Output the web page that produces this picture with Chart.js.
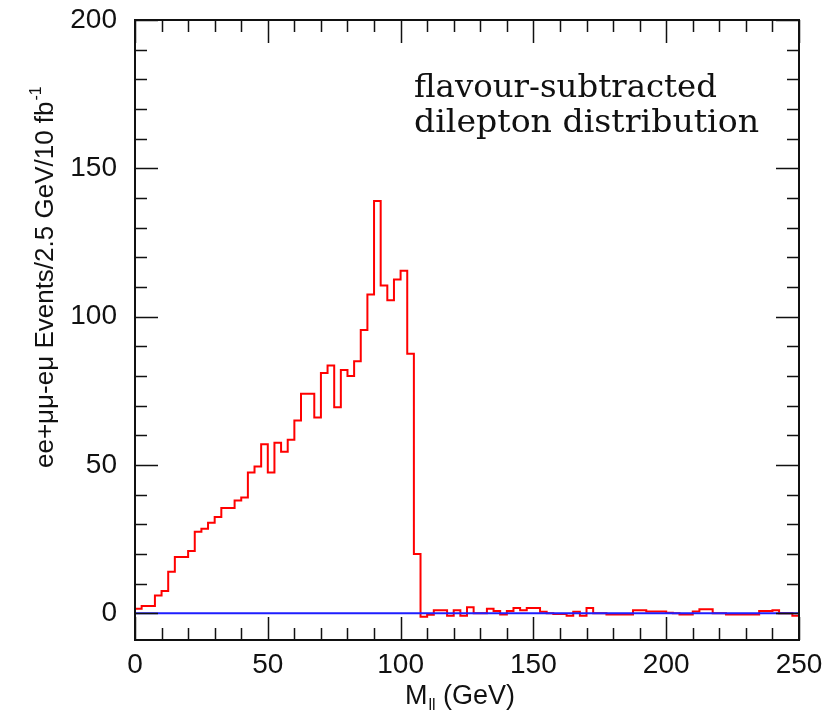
<!DOCTYPE html>
<html>
<head>
<meta charset="utf-8">
<script src="https://cdn.jsdelivr.net/npm/chart.js@4"></script>
<style>
html, body { margin: 0; padding: 0; background: #fff; }
</style>
</head>
<body>
<canvas id="chart" width="823" height="719"></canvas>
<script>
// ee+mumu-emu events per 2.5 GeV bin, 0..250 GeV
const binWidth = 2.5;
const eventCounts = [
	1.5, 2.5, 2.5, 6, 7.5, 14, 19, 19, 21, 27.5,
	28.5, 30.5, 32.5, 35.5, 35.5, 38, 39, 47.5, 49.5, 57,
	47.5, 57.5, 54.5, 58.5, 65, 74, 74, 66, 81, 83.5,
	69.5, 82, 80, 85, 95.5, 107.5, 139, 110.5, 105.5, 112.5,
	115.5, 87.5, 20, -1.2, -0.5, 1, 1, -0.8, 1, -0.8,
	2, 0, 0, 1.5, 0.8, -0.4, 0.8, 1.8, 1, 1.8,
	1.8, 0.5, 0, -0.2, -0.2, -0.8, 0.5, -0.8, 1.8, 0,
	0, -0.4, -0.4, -0.4, -0.4, 1, 1, 0.6, 0.6, 0.6,
	0.2, 0, -0.4, -0.4, 0.6, 1.4, 1.4, 0, 0, -0.4,
	-0.4, -0.4, -0.4, -0.4, 0.8, 0.8, 1, 0, 0, -0.8
];
const baselineValue = 0;
const xRange = [0, 250];
const yRange = [-9, 200];
const xTickValues = [0, 50, 100, 150, 200, 250];
const yTickValues = [0, 50, 100, 150, 200];
const annotationLines = ['flavour-subtracted', 'dilepton distribution'];
const xTitle = { main: 'M', sub: 'll', rest: ' (GeV)' };
const yTitle = { main: 'ee+\u03bc\u03bc-e\u03bc Events/2.5 GeV/10 fb', sup: '-1' };

// histogram outline: one point per left bin edge, plus the right end
const histPoints = eventCounts.map((v, i) => ({ x: i * binWidth, y: v }));
histPoints.push({ x: eventCounts.length * binWidth, y: eventCounts[eventCounts.length - 1] });

function noScalePadding(s) {
	s.paddingTop = 0; s.paddingBottom = 0;
	s.paddingLeft = 0; s.paddingRight = 0;
}

const framePlugin = {
	id: 'framePlugin',
	afterDraw(chart) {
		const ctx = chart.ctx;
		const a = chart.chartArea;
		const xs = chart.scales.x, ys = chart.scales.y;
		ctx.save();
		ctx.strokeStyle = '#111';
		ctx.lineWidth = 1.5;

		// inward ticks on all four sides
		ctx.beginPath();
		for (let v = xRange[0]; v <= xRange[1]; v += 10) {
			const px = Math.round(xs.getPixelForValue(v)) + 0.5;
			const len = v % 50 === 0 ? 23 : 12;
			ctx.moveTo(px, a.bottom); ctx.lineTo(px, a.bottom - len);
			ctx.moveTo(px, a.top); ctx.lineTo(px, a.top + len);
		}
		for (let v = 0; v <= yRange[1]; v += 10) {
			const py = Math.round(ys.getPixelForValue(v)) + 0.5;
			const len = v % 50 === 0 ? 23 : 12;
			ctx.moveTo(a.left, py); ctx.lineTo(a.left + len, py);
			ctx.moveTo(a.right, py); ctx.lineTo(a.right - len, py);
		}
		ctx.stroke();

		ctx.lineWidth = 2;
		ctx.strokeRect(a.left, a.top, a.right - a.left, a.bottom - a.top);

		// annotation (serif)
		ctx.fillStyle = '#111';
		ctx.textBaseline = 'alphabetic';
		ctx.textAlign = 'left';
		const widths = [303, 345];
		const baselines = [97, 132];
		ctx.font = '31px "DejaVu Serif"';
		annotationLines.forEach((t, i) => {
			const w = ctx.measureText(t).width;
			ctx.save();
			ctx.translate(414, baselines[i]);
			ctx.scale(widths[i] / w, 1);
			ctx.fillText(t, 0, 0);
			ctx.restore();
		});

		// x title with subscript
		ctx.font = '27px "Liberation Sans"';
		const mW = ctx.measureText(xTitle.main).width;
		ctx.font = '16px "Liberation Sans"';
		const sW = ctx.measureText(xTitle.sub).width;
		let x0 = 405;
		const xb = 704;
		ctx.font = '27px "Liberation Sans"';
		ctx.fillText(xTitle.main, x0, xb);
		ctx.font = '16px "Liberation Sans"';
		ctx.fillText(xTitle.sub, x0 + mW + 1, xb + 6);
		ctx.font = '27px "Liberation Sans"';
		ctx.fillText(xTitle.rest, x0 + mW + sW + 1, xb);

		// y title with superscript, rotated
		ctx.save();
		ctx.translate(53, 468);
		ctx.rotate(-Math.PI / 2);
		ctx.font = '26px "Liberation Sans"';
		ctx.fillText(yTitle.main, 0, 0);
		const yw = ctx.measureText(yTitle.main).width;
		ctx.font = '16px "Liberation Sans"';
		ctx.fillText(yTitle.sup, yw + 1, -12);
		ctx.restore();

		ctx.restore();
	}
};

const ctx = document.getElementById('chart').getContext('2d');
new Chart(ctx, {
	type: 'line',
	data: {
		datasets: [
			{
				label: 'zero',
				data: [{ x: xRange[0], y: baselineValue }, { x: xRange[1], y: baselineValue }],
				borderColor: 'rgb(30, 30, 255)',
				borderWidth: 2,
				pointRadius: 0,
			},
			{
				label: 'flavour-subtracted',
				data: histPoints,
				borderColor: 'rgb(255, 0, 0)',
				borderWidth: 2,
				stepped: 'before',
				pointRadius: 0,
			}
		]
	},
	options: {
		responsive: false,
		animation: false,
		layout: { padding: { top: 20, right: 24, left: 0, bottom: 0 } },
		plugins: { legend: { display: false }, tooltip: { enabled: false } },
		scales: {
			x: {
				type: 'linear',
				min: xRange[0], max: xRange[1],
				grid: { display: false, drawTicks: false },
				border: { display: false },
				afterBuildTicks: s => { s.ticks = xTickValues.map(v => ({ value: v })); },
				afterFit: s => { s.height = 79; noScalePadding(s); },
				ticks: {
					padding: 8,
					maxRotation: 0,
					color: '#111',
					font: { family: 'Liberation Sans', size: 28 }
				}
			},
			y: {
				type: 'linear',
				min: yRange[0], max: yRange[1],
				grid: { display: false, drawTicks: false },
				border: { display: false },
				afterBuildTicks: s => { s.ticks = yTickValues.map(v => ({ value: v })); },
				afterFit: s => { s.width = 135; noScalePadding(s); },
				ticks: {
					padding: 18,
					color: '#111',
					font: { family: 'Liberation Sans', size: 28 }
				}
			}
		}
	},
	plugins: [framePlugin]
});
</script>
</body>
</html>
